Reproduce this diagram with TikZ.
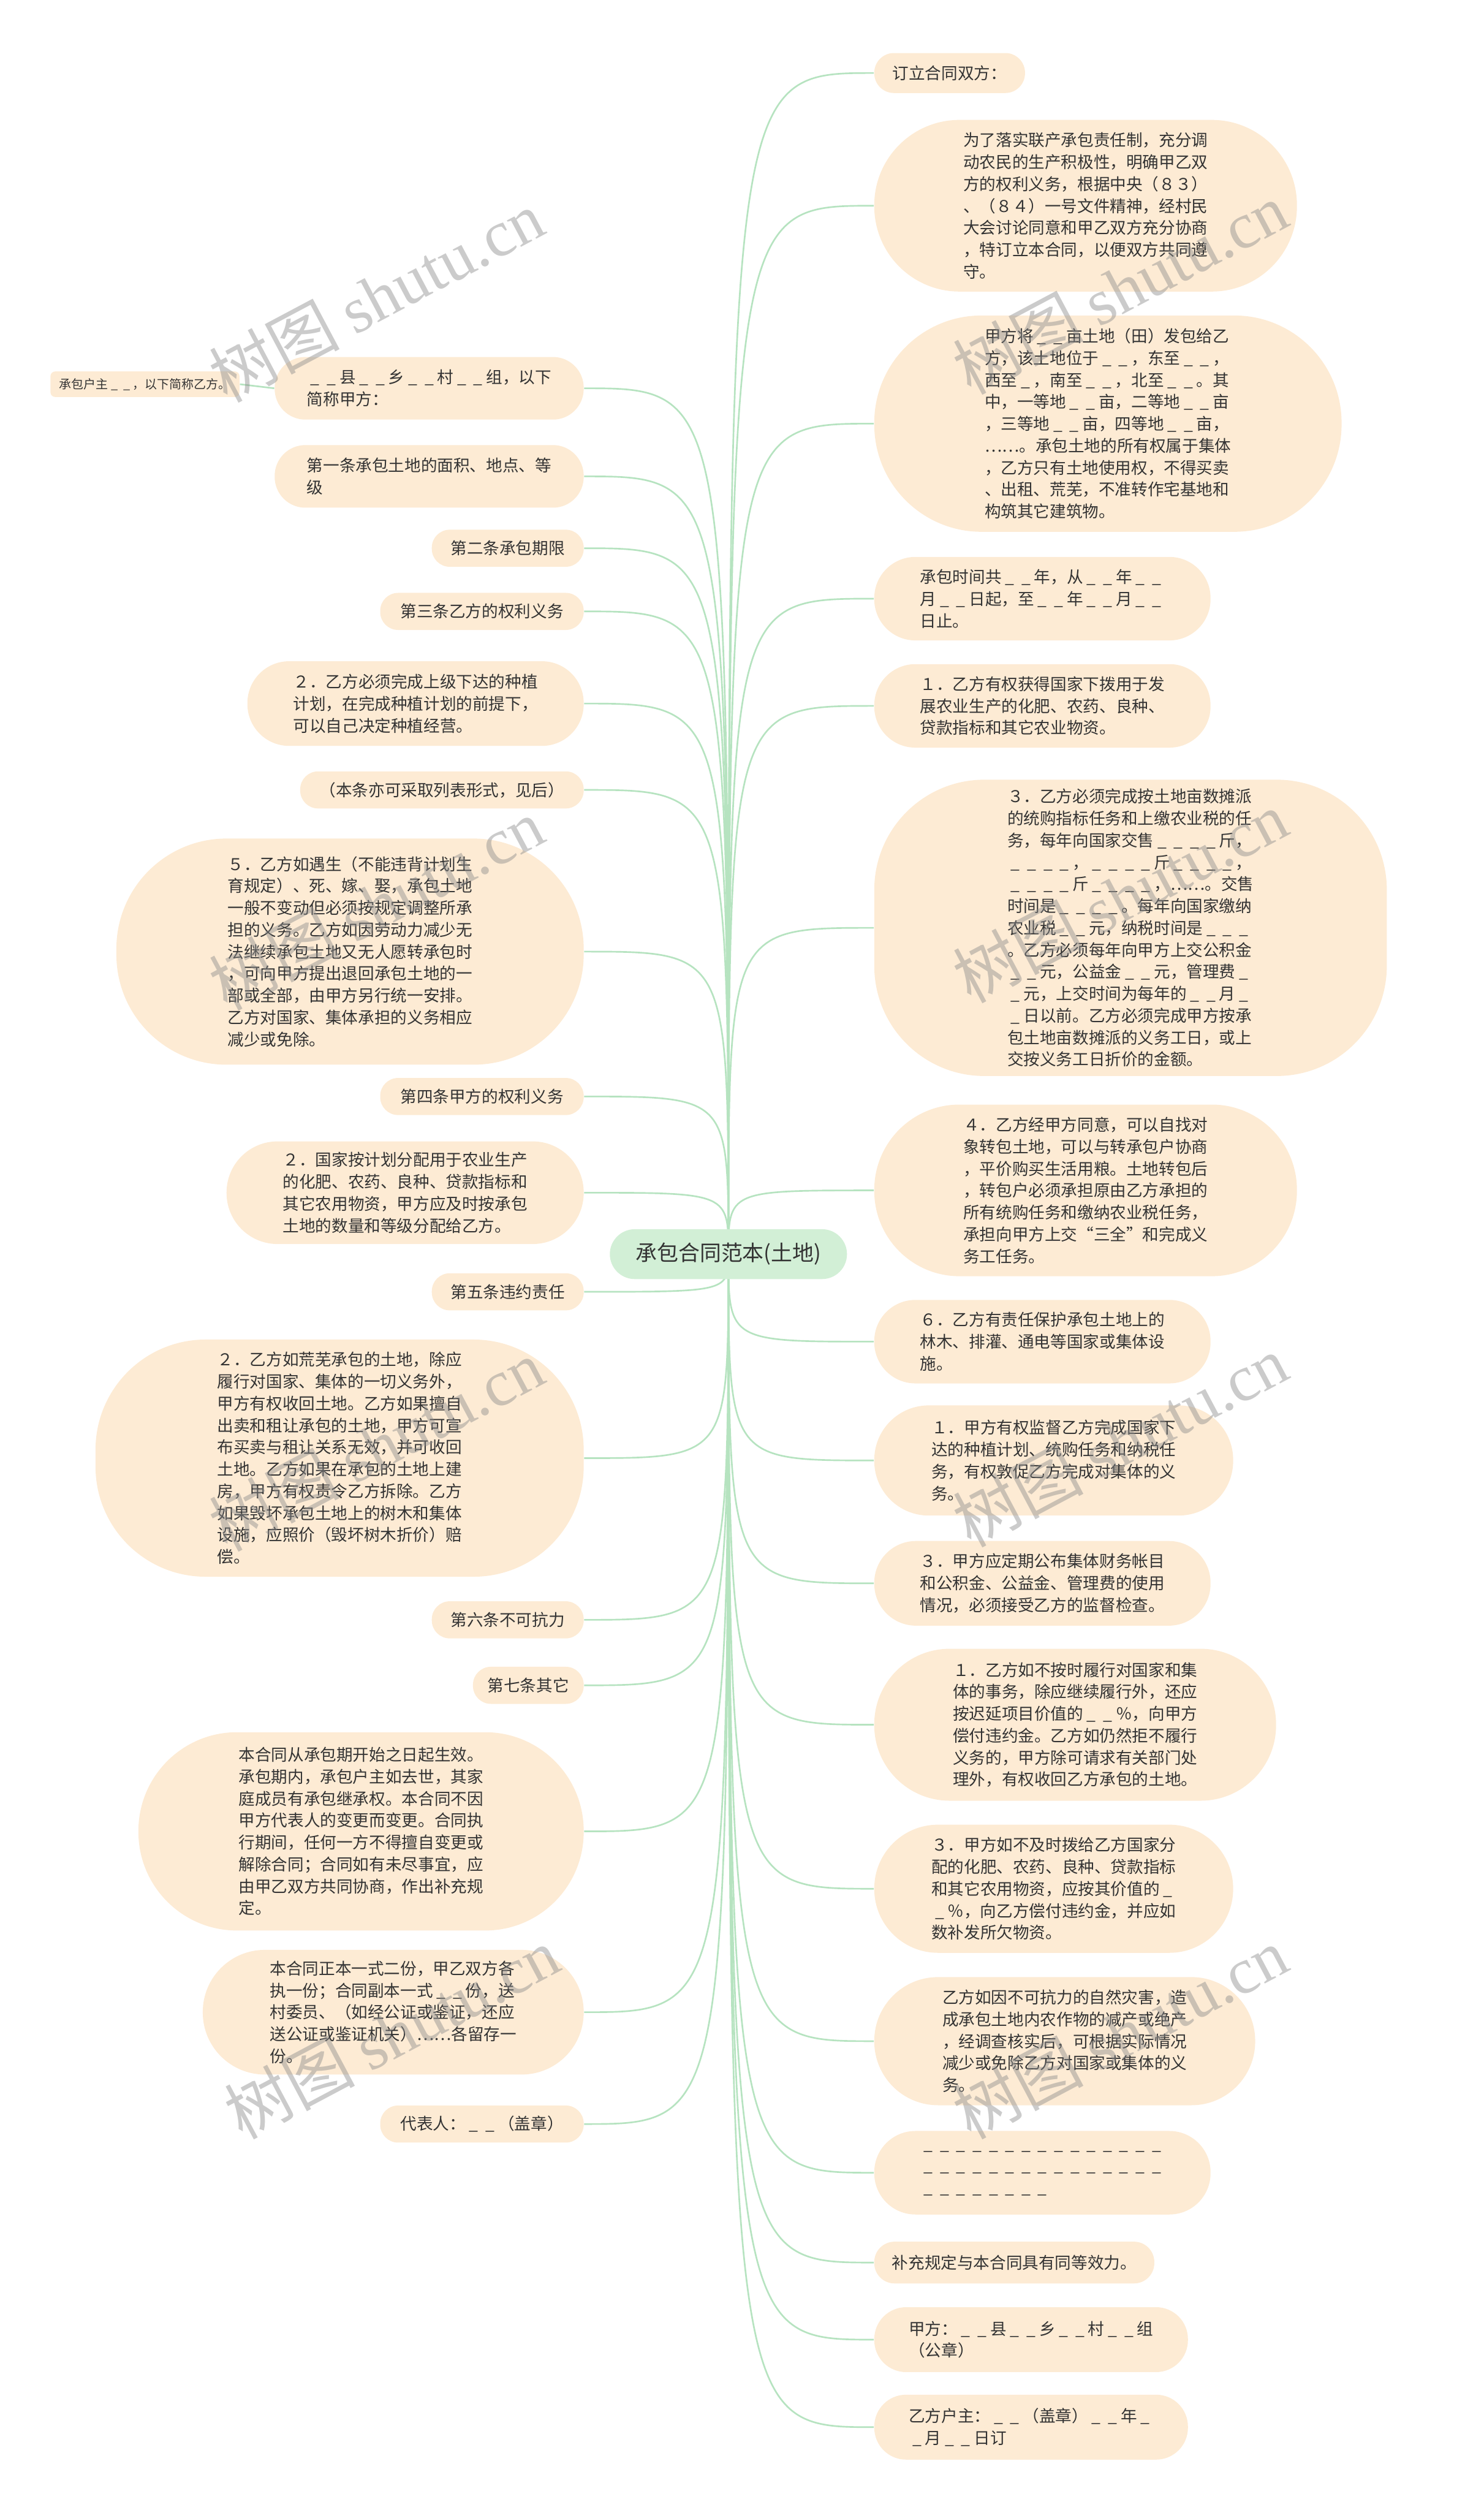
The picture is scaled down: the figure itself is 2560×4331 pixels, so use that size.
\documentclass[tikz,border=0pt]{standalone}
\usepackage{fontspec}
\setmainfont{Noto Sans CJK SC}
\newfontfamily\wmlatin{Liberation Serif}
\usepackage{tikz}
\usetikzlibrary{backgrounds}
\definecolor{peach}{HTML}{FDEBD4}
\definecolor{mint}{HTML}{D2EFD6}
\definecolor{linkc}{HTML}{B6E3C0}
\definecolor{inkc}{HTML}{333333}
\definecolor{wmgray}{HTML}{8C8C8C}
\newcommand{\blnk}{\makebox[1em]{\_}}
\tikzset{
  leaf/.style={fill=peach, text=inkc, align=left, inner sep=0pt, font=\fontsize{8}{10.75}\selectfont},
  pill/.style n args={3}{minimum width=#1cm, minimum height=#2cm, rounded corners=#3cm},
  link/.style={linkc, line width=0.8pt},
  wmark/.style={wmgray, opacity=0.45, rotate=28, font=\fontsize{32}{32}\selectfont}
}

\begin{document}
\begin{tikzpicture}[x=0.01cm, y=-0.01cm]
    \useasboundingbox (0,0) rectangle (2560,4331);
    % centre
    \node[fill=mint, text=inkc, pill={4.09}{0.86}{0.43}, font=\fontsize{10.5}{12}\selectfont] (root) at (1257,2164) {承包合同范本(土地)};
    % right branch
    \node[leaf, pill={2.60}{0.69}{0.34}, anchor=west] (r1) at (1508,126) {订立合同双方：};
    \node[leaf, pill={7.29}{2.96}{1.47}, anchor=west] (r2) at (1508,355) {为了落实联产承包责任制，充分调\\动农民的生产积极性，明确甲乙双\\方的权利义务，根据中央（８３）\\、（８４）一号文件精神，经村民\\大会讨论同意和甲乙双方充分协商\\，特订立本合同，以便双方共同遵\\守。};
    \node[leaf, pill={8.06}{3.73}{1.85}, anchor=west] (r3) at (1508,731) {甲方将\blnk\blnk 亩土地（田）发包给乙\\方，该土地位于\blnk\blnk，东至\blnk\blnk，\\西至\blnk，南至\blnk\blnk，北至\blnk\blnk。其\\中，一等地\blnk\blnk 亩，二等地\blnk\blnk 亩\\，三等地\blnk\blnk 亩，四等地\blnk\blnk 亩，\\……。承包土地的所有权属于集体\\，乙方只有土地使用权，不得买卖\\、出租、荒芜，不准转作宅基地和\\构筑其它建筑物。};
    \node[leaf, pill={5.80}{1.44}{0.71}, anchor=west] (r4) at (1508,1033) {承包时间共\blnk\blnk 年，从\blnk\blnk 年\blnk\blnk\\月\blnk\blnk 日起，至\blnk\blnk 年\blnk\blnk 月\blnk\blnk\\日止。};
    \node[leaf, pill={5.80}{1.44}{0.71}, anchor=west] (r5) at (1508,1218) {１．乙方有权获得国家下拨用于发\\展农业生产的化肥、农药、良种、\\贷款指标和其它农业物资。};
    \node[leaf, pill={8.84}{5.11}{1.90}, anchor=west] (r6) at (1508,1601) {３．乙方必须完成按土地亩数摊派\\的统购指标任务和上缴农业税的任\\务，每年向国家交售\blnk\blnk\blnk\blnk 斤，\\\blnk\blnk\blnk\blnk，\blnk\blnk\blnk\blnk 斤\blnk\blnk\blnk\blnk，\\\blnk\blnk\blnk\blnk 斤\blnk\blnk\blnk\blnk，……。交售\\时间是\blnk\blnk\blnk\blnk。每年向国家缴纳\\农业税\blnk\blnk 元，纳税时间是\blnk\blnk\blnk\\。乙方必须每年向甲方上交公积金\\\blnk\blnk 元，公益金\blnk\blnk 元，管理费\blnk\\\blnk 元，上交时间为每年的\blnk\blnk 月\blnk\\\blnk 日以前。乙方必须完成甲方按承\\包土地亩数摊派的义务工日，或上\\交按义务工日折价的金额。};
    \node[leaf, pill={7.29}{2.96}{1.47}, anchor=west] (r7) at (1508,2054) {４．乙方经甲方同意，可以自找对\\象转包土地，可以与转承包户协商\\，平价购买生活用粮。土地转包后\\，转包户必须承担原由乙方承担的\\所有统购任务和缴纳农业税任务，\\承担向甲方上交“三全”和完成义\\务工任务。};
    \node[leaf, pill={5.80}{1.44}{0.71}, anchor=west] (r8) at (1508,2315) {６．乙方有责任保护承包土地上的\\林木、排灌、通电等国家或集体设\\施。};
    \node[leaf, pill={6.19}{1.90}{0.94}, anchor=west] (r9) at (1508,2520) {１．甲方有权监督乙方完成国家下\\达的种植计划、统购任务和纳税任\\务，有权敦促乙方完成对集体的义\\务。};
    \node[leaf, pill={5.80}{1.46}{0.72}, anchor=west] (r10) at (1508,2732) {３．甲方应定期公布集体财务帐目\\和公积金、公益金、管理费的使用\\情况，必须接受乙方的监督检查。};
    \node[leaf, pill={6.93}{2.62}{1.30}, anchor=west] (r11) at (1508,2976) {１．乙方如不按时履行对国家和集\\体的事务，除应继续履行外，还应\\按迟延项目价值的\blnk\blnk ％，向甲方\\偿付违约金。乙方如仍然拒不履行\\义务的，甲方除可请求有关部门处\\理外，有权收回乙方承包的土地。};
    \node[leaf, pill={6.19}{2.21}{1.10}, anchor=west] (r12) at (1508,3259) {３．甲方如不及时拨给乙方国家分\\配的化肥、农药、良种、贷款指标\\和其它农用物资，应按其价值的\blnk\\\blnk ％，向乙方偿付违约金，并应如\\数补发所欠物资。};
    \node[leaf, pill={6.57}{2.21}{1.10}, anchor=west] (r13) at (1508,3522) {乙方如因不可抗力的自然灾害，造\\成承包土地内农作物的减产或绝产\\，经调查核实后，可根据实际情况\\减少或免除乙方对国家或集体的义\\务。};
    \node[leaf, pill={5.80}{1.44}{0.71}, anchor=west] (r14) at (1508,3749) {\blnk\blnk\blnk\blnk\blnk\blnk\blnk\blnk\blnk\blnk\blnk\blnk\blnk\blnk\blnk\\\blnk\blnk\blnk\blnk\blnk\blnk\blnk\blnk\blnk\blnk\blnk\blnk\blnk\blnk\blnk\\\blnk\blnk\blnk\blnk\blnk\blnk\blnk\blnk};
    \node[leaf, pill={4.83}{0.72}{0.35}, anchor=west] (r15) at (1508,3904) {补充规定与本合同具有同等效力。};
    \node[leaf, pill={5.41}{1.12}{0.55}, anchor=west] (r16) at (1508,4037) {甲方：\blnk\blnk 县\blnk\blnk 乡\blnk\blnk 村\blnk\blnk 组\\（公章）};
    \node[leaf, pill={5.41}{1.12}{0.55}, anchor=west] (r17) at (1508,4188) {乙方户主：\blnk\blnk（盖章）\blnk\blnk 年\blnk\\\blnk 月\blnk\blnk 日订};
    % left branch
    \node[leaf, pill={5.33}{1.08}{0.53}, anchor=east] (l1) at (1008,670) {\blnk\blnk 县\blnk\blnk 乡\blnk\blnk 村\blnk\blnk 组，以下\\简称甲方：};
    \node[leaf, pill={3.26}{0.44}{0.08}, anchor=east, font=\fontsize{6}{7}\selectfont] (l0) at (414,663) {承包户主\blnk\blnk，以下简称乙方。};
    \node[leaf, pill={5.33}{1.08}{0.53}, anchor=east] (l2) at (1008,822) {第一条承包土地的面积、地点、等\\级};
    \node[leaf, pill={2.62}{0.64}{0.31}, anchor=east] (l3) at (1008,946) {第二条承包期限};
    \node[leaf, pill={3.51}{0.64}{0.31}, anchor=east] (l4) at (1008,1055) {第三条乙方的权利义务};
    \node[leaf, pill={5.80}{1.46}{0.72}, anchor=east] (l5) at (1008,1214) {２．乙方必须完成上级下达的种植\\计划，在完成种植计划的前提下，\\可以自己决定种植经营。};
    \node[leaf, pill={4.89}{0.64}{0.31}, anchor=east] (l6) at (1008,1363) {（本条亦可采取列表形式，见后）};
    \node[leaf, pill={8.06}{3.90}{1.90}, anchor=east] (l7) at (1008,1642) {５．乙方如遇生（不能违背计划生\\育规定）、死、嫁、娶，承包土地\\一般不变动但必须按规定调整所承\\担的义务。乙方如因劳动力减少无\\法继续承包土地又无人愿转承包时\\，可向甲方提出退回承包土地的一\\部或全部，由甲方另行统一安排。\\乙方对国家、集体承担的义务相应\\减少或免除。};
    \node[leaf, pill={3.51}{0.64}{0.31}, anchor=east] (l8) at (1008,1892) {第四条甲方的权利义务};
    \node[leaf, pill={6.16}{1.77}{0.88}, anchor=east] (l9) at (1008,2058) {２．国家按计划分配用于农业生产\\的化肥、农药、良种、贷款指标和\\其它农用物资，甲方应及时按承包\\土地的数量和等级分配给乙方。};
    \node[leaf, pill={2.62}{0.64}{0.31}, anchor=east] (l10) at (1008,2229) {第五条违约责任};
    \node[leaf, pill={8.42}{4.09}{1.90}, anchor=east] (l11) at (1008,2516) {２．乙方如荒芜承包的土地，除应\\履行对国家、集体的一切义务外，\\甲方有权收回土地。乙方如果擅自\\出卖和租让承包的土地，甲方可宣\\布买卖与租让关系无效，并可收回\\土地。乙方如果在承包的土地上建\\房，甲方有权责令乙方拆除。乙方\\如果毁坏承包土地上的树木和集体\\设施，应照价（毁坏树木折价）赔\\偿。};
    \node[leaf, pill={2.62}{0.64}{0.31}, anchor=east] (l12) at (1008,2795) {第六条不可抗力};
    \node[leaf, pill={1.91}{0.64}{0.31}, anchor=east] (l13) at (1008,2908) {第七条其它};
    \node[leaf, pill={7.68}{3.42}{1.70}, anchor=east] (l14) at (1008,3160) {本合同从承包期开始之日起生效。\\承包期内，承包户主如去世，其家\\庭成员有承包继承权。本合同不因\\甲方代表人的变更而变更。合同执\\行期间，任何一方不得擅自变更或\\解除合同；合同如有未尽事宜，应\\由甲乙双方共同协商，作出补充规\\定。};
    \node[leaf, pill={6.57}{2.15}{1.07}, anchor=east] (l15) at (1008,3472) {本合同正本一式二份，甲乙双方各\\执一份；合同副本一式\blnk\blnk 份，送\\村委员、（如经公证或鉴证，还应\\送公证或鉴证机关）……各留存一\\份。};
    \node[leaf, pill={3.51}{0.64}{0.31}, anchor=east] (l16) at (1008,3665) {代表人：\blnk\blnk（盖章）};
    % connectors
    \begin{scope}[on background layer]
      \foreach \i in {1,...,17}
        \draw[link] (root.center) .. controls (root.center |- r\i.west) .. (r\i.west);
      \foreach \i in {1,...,16}
        \draw[link] (root.center) .. controls (root.center |- l\i.east) .. (l\i.east);
      \draw[link] (l1.west) -- (l0.east);
    \end{scope}
    % watermark
    \foreach \wx/\wy [count=\k] in {649/511, 1933/497, 649/1560, 1933/1547, 649/2494, 1933/2486, 676/3508, 1933/3508}
      \node[wmark] (wm\k) at (\wx,\wy) {树图 {\wmlatin shutu.cn}};
\end{tikzpicture}
\end{document}
